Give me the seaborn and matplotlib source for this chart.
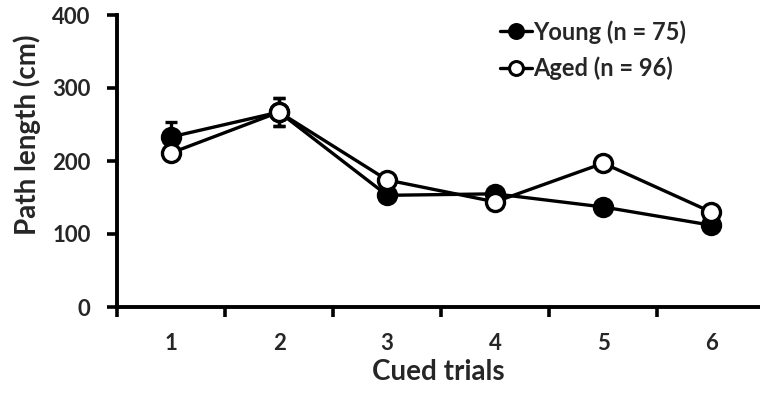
import numpy as np
import pandas as pd
import seaborn as sns
import matplotlib
matplotlib.use("Agg")
import matplotlib.pyplot as plt
from matplotlib.lines import Line2D

trials = [1, 2, 3, 4, 5, 6]
young = [233, 267, 153, 155, 137, 112]
aged = [211, 267, 174, 144, 197, 130]
young_err = [20, 19, 6, 6, 6, 6]
aged_err = [6, 19, 6, 6, 6, 6]
series_names = ["Young (n = 75)", "Aged (n = 96)"]
y_ticks = [0, 100, 200, 300, 400]

sns.set_theme(style="ticks")
plt.rcParams['font.family'] = ['Lato', 'DejaVu Sans']

df = pd.DataFrame({
    "trial": trials * 2,
    "value": young + aged,
    "err": young_err + aged_err,
    "group": [series_names[0]] * 6 + [series_names[1]] * 6,
})

fig = plt.figure(figsize=(7.6, 3.95), dpi=100)
ax = fig.add_axes([117/760, 88/395, 1 - 117/760, 292/395])

lw = 2.4
ms = 13
for name, face in zip(series_names, ["black", "white"]):
    sub = df[df.group == name]
    ax.errorbar(sub.trial, sub.value, yerr=sub.err, fmt="none", ecolor="black",
                elinewidth=lw, capsize=4, capthick=lw, zorder=2)

sns.lineplot(data=df, x="trial", y="value", hue="group", style="group",
             palette=["black", "black"], markers=["o", "o"], dashes=False,
             linewidth=lw, markersize=ms, ax=ax, legend=False, zorder=3)
for line, face in zip(ax.lines[-2:], ["black", "white"]):
    line.set_markerfacecolor(face)
    line.set_markeredgecolor("black")
    line.set_markeredgewidth(2.4)

ax.set_xlim(0.5, 6.45)
ax.set_ylim(0, 400)
ax.set_yticks(y_ticks)
ax.set_yticklabels([str(v) for v in y_ticks], fontsize=16, fontweight="bold")
ax.set_xticks([0.5, 1.5, 2.5, 3.5, 4.5, 5.5])
ax.set_xticklabels([])
ax.set_xticks(trials, minor=True)
ax.set_xticklabels([str(t) for t in trials], minor=True, fontsize=16, fontweight="bold")
ax.tick_params(axis="x", which="major", length=7, width=2.6, direction="out", color="black")
ax.tick_params(axis="x", which="minor", length=0, pad=19)
ax.tick_params(axis="y", length=7, width=2.6, color="black", pad=12)
for s in ["top", "right"]:
    ax.spines[s].set_visible(False)
for s in ["left", "bottom"]:
    ax.spines[s].set_linewidth(2.8)
    ax.spines[s].set_color("black")

ax.set_xlabel("Cued trials", fontsize=20, fontweight="bold")
ax.set_ylabel("Path length (cm)", fontsize=20, fontweight="bold")
ax.yaxis.set_label_coords(-0.118, 0.59)
ax.xaxis.set_label_coords(0.5, -0.178)

handles = [
    Line2D([], [], color="black", lw=lw, marker="o", markersize=10,
           markerfacecolor=f, markeredgecolor="black", markeredgewidth=2.2)
    for f in ["black", "white"]
]
leg = ax.legend(handles, series_names, loc="upper left", bbox_to_anchor=(0.581, 1.015),
                frameon=False, prop={"weight": "bold", "size": 17},
                handlelength=1.35, handletextpad=0.05, labelspacing=0.55, borderaxespad=0)

fig.savefig("out.png", dpi=100, facecolor="white")
